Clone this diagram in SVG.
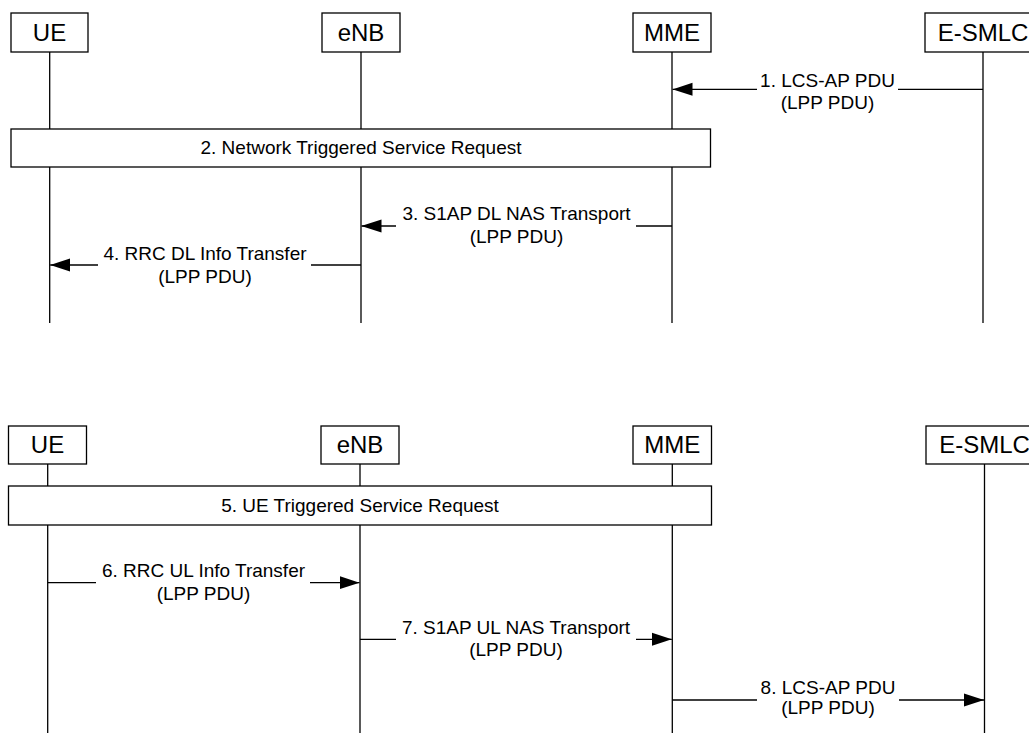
<svg xmlns="http://www.w3.org/2000/svg" width="1029" height="733" viewBox="0 0 1029 733">
<style>
.box{fill:#fff;stroke:#000;stroke-width:1.3}
.life{stroke:#000;stroke-width:1.3;fill:none}
.msg{stroke:#000;stroke-width:1.3;fill:none}
.title{font-family:"Liberation Sans",Arial,sans-serif;font-size:24px;text-anchor:middle;fill:#000}
.lbl{font-family:"Liberation Sans",Arial,sans-serif;font-size:19px;text-anchor:middle;fill:#000}
</style>
<defs>
<marker id="ah" markerUnits="userSpaceOnUse" markerWidth="20" markerHeight="14" viewBox="0 0 20 14" refX="20" refY="7" orient="auto">
<path d="M0,0.5 L20,7 L0,13.5 z" fill="#000"/>
</marker>
</defs>
<rect width="1029" height="733" fill="#fff"/>
<g id="lifelines">
<line class="life" x1="49.7" y1="52" x2="49.7" y2="323"/>
<line class="life" x1="361" y1="52" x2="361" y2="323"/>
<line class="life" x1="672" y1="52" x2="672" y2="323"/>
<line class="life" x1="983" y1="52" x2="983" y2="323"/>
<line class="life" x1="47.7" y1="464" x2="47.7" y2="733"/>
<line class="life" x1="360" y1="464" x2="360" y2="733"/>
<line class="life" x1="672.3" y1="464" x2="672.3" y2="733"/>
<line class="life" x1="984.5" y1="464" x2="984.5" y2="733"/>
</g>
<g id="ue1"><rect class="box" x="11" y="13" width="77" height="39"/><text class="title" x="49.5" y="40.5">UE</text></g>
<g id="enb1"><rect class="box" x="322" y="13" width="78" height="39"/><text class="title" x="361" y="40.5">eNB</text></g>
<g id="mme1"><rect class="box" x="633" y="13" width="78" height="39"/><text class="title" x="672" y="40.5">MME</text></g>
<g id="esmlc1"><rect class="box" x="925" y="13" width="116" height="39"/><text class="title" x="983" y="40.5">E-SMLC</text></g>
<g id="step2"><rect class="box" x="11" y="129" width="699.5" height="38"/><text class="lbl" x="361" y="154">2. Network Triggered Service Request</text></g>
<g id="ue2"><rect class="box" x="8.5" y="426" width="78" height="38"/><text class="title" x="47.5" y="453">UE</text></g>
<g id="enb2"><rect class="box" x="321" y="426" width="78" height="38"/><text class="title" x="360" y="453">eNB</text></g>
<g id="mme2"><rect class="box" x="633" y="426" width="78.5" height="38"/><text class="title" x="672.3" y="453">MME</text></g>
<g id="esmlc2"><rect class="box" x="926" y="426" width="117" height="38"/><text class="title" x="984.5" y="453">E-SMLC</text></g>
<g id="step5"><rect class="box" x="8.5" y="486" width="703" height="39"/><text class="lbl" x="360" y="512">5. UE Triggered Service Request</text></g>
<g id="connectors">
<line class="msg" x1="983" y1="89.3" x2="898" y2="89.3"/>
<line class="msg" x1="757" y1="89.3" x2="672.5" y2="89.3" marker-end="url(#ah)"/>
<line class="msg" x1="672" y1="226" x2="636" y2="226"/>
<line class="msg" x1="396" y1="226" x2="361.5" y2="226" marker-end="url(#ah)"/>
<line class="msg" x1="361" y1="265" x2="311" y2="265"/>
<line class="msg" x1="98" y1="265" x2="50.2" y2="265" marker-end="url(#ah)"/>
<line class="msg" x1="47.7" y1="582.7" x2="96" y2="582.7"/>
<line class="msg" x1="310" y1="582.7" x2="359.5" y2="582.7" marker-end="url(#ah)"/>
<line class="msg" x1="360" y1="639.3" x2="396" y2="639.3"/>
<line class="msg" x1="636" y1="639.3" x2="671.8" y2="639.3" marker-end="url(#ah)"/>
<line class="msg" x1="672.3" y1="700" x2="757" y2="700"/>
<line class="msg" x1="899" y1="700" x2="984" y2="700" marker-end="url(#ah)"/>
</g>
<g id="labels">
<text class="lbl" x="827.5" y="87">1. LCS-AP PDU</text>
<text class="lbl" x="827.5" y="109">(LPP PDU)</text>
<text class="lbl" x="516.5" y="220">3. S1AP DL NAS Transport</text>
<text class="lbl" x="516.5" y="243">(LPP PDU)</text>
<text class="lbl" x="205" y="259.5">4. RRC DL Info Transfer</text>
<text class="lbl" x="205" y="282.5">(LPP PDU)</text>
<text class="lbl" x="203.5" y="577">6. RRC UL Info Transfer</text>
<text class="lbl" x="203.5" y="600">(LPP PDU)</text>
<text class="lbl" x="516" y="633.5">7. S1AP UL NAS Transport</text>
<text class="lbl" x="516" y="655.5">(LPP PDU)</text>
<text class="lbl" x="828" y="693.5">8. LCS-AP PDU</text>
<text class="lbl" x="828" y="714">(LPP PDU)</text>
</g>
</svg>
